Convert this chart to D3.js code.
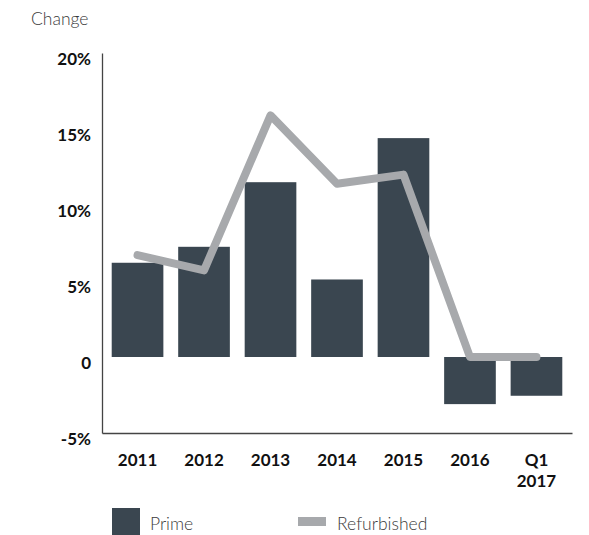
<!DOCTYPE html>
<html>
<head>
<meta charset="utf-8">
<script src="https://cdn.jsdelivr.net/npm/d3@7"></script>
<style>
  html, body { margin: 0; padding: 0; background: #fff; }
  svg { display: block; }
</style>
</head>
<body>
<div id="chart"></div>
<script>
// Annual price change, prime vs refurbished stock
const categories = ["2011", "2012", "2013", "2014", "2015", "2016", "Q1\n2017"];
const primeValues = [6.2, 7.25, 11.5, 5.1, 14.4, -3.1, -2.55];
const refurbishedValues = [6.7, 5.7, 15.9, 11.4, 12.0, 0, 0];
const yTicks = [-5, 0, 5, 10, 15, 20];
const yTickLabels = ["-5%", "0", "5%", "10%", "15%", "20%"];
const seriesNames = ["Prime", "Refurbished"];

const W = 589, H = 535;
const margin = { left: 102, right: 17, top: 53, bottom: 102 };
const font = "Lato, 'Open Sans', sans-serif";
const barColor = "#3a4650";
const lineColor = "#a7a9ac";

const svg = d3.select("#chart").append("svg")
  .attr("width", W).attr("height", H);

const x = d3.scaleBand()
  .domain(categories)
  .range([margin.left, W - margin.right])
  .paddingInner(0.223)
  .paddingOuter(0.146);

const y = d3.scaleLinear()
  .domain([-5, 20])
  .range([H - margin.bottom, margin.top]);

// axis title
svg.append("text")
  .attr("x", 31).attr("y", 25)
  .attr("font-family", font).attr("font-size", 17.5)
  .attr("font-weight", 300).attr("fill", "#3a3a3a")
  .text("Change");

// bars
svg.append("g").selectAll("rect")
  .data(primeValues)
  .join("rect")
  .attr("x", (d, i) => x(categories[i]))
  .attr("width", x.bandwidth())
  .attr("y", d => y(Math.max(0, d)))
  .attr("height", d => Math.abs(y(d) - y(0)))
  .attr("fill", barColor);

// refurbished line
const line = d3.line()
  .x((d, i) => x(categories[i]) + x.bandwidth() / 2)
  .y(d => y(d));

svg.append("path")
  .datum(refurbishedValues)
  .attr("d", line)
  .attr("fill", "none")
  .attr("stroke", lineColor)
  .attr("stroke-width", 8)
  .attr("stroke-linejoin", "round")
  .attr("stroke-linecap", "round");

// y axis
const yAxis = d3.axisLeft(y)
  .tickValues(yTicks)
  .tickSize(0)
  .tickPadding(11)
  .tickFormat((d, i) => yTickLabels[i]);

const gy = svg.append("g")
  .attr("transform", `translate(${margin.left},0)`)
  .call(yAxis);
gy.select(".domain").attr("stroke", "#444").attr("stroke-width", 1.3);
gy.selectAll("text")
  .attr("font-family", font).attr("font-size", 17)
  .attr("font-weight", 700).attr("fill", "#111")
  .attr("dy", "0.36em")
  .attr("y", 5);

// x axis
const xAxis = d3.axisBottom(x).tickSize(0).tickPadding(0).tickFormat("");
const gx = svg.append("g")
  .attr("transform", `translate(0,${y(-5)})`)
  .call(xAxis);
gx.select(".domain").attr("stroke", "#444").attr("stroke-width", 1.3);

gx.selectAll(".tick").each(function(d) {
  const t = d3.select(this).append("text")
    .attr("text-anchor", "middle")
    .attr("font-family", font).attr("font-size", 17)
    .attr("font-weight", 700).attr("fill", "#111");
  d.split("\n").forEach((part, j) => {
    t.append("tspan").attr("x", 0).attr("y", 33 + j * 21).text(part);
  });
});

// legend
const legend = svg.append("g");
legend.append("rect")
  .attr("x", 112).attr("y", 508).attr("width", 28).attr("height", 27)
  .attr("fill", barColor);
legend.append("text")
  .attr("x", 150).attr("y", 530)
  .attr("font-family", font).attr("font-size", 17.5)
  .attr("font-weight", 300).attr("fill", "#3a3a3a")
  .text(seriesNames[0]);
legend.append("rect")
  .attr("x", 298).attr("y", 517).attr("width", 28).attr("height", 9)
  .attr("fill", lineColor);
legend.append("text")
  .attr("x", 337).attr("y", 530)
  .attr("font-family", font).attr("font-size", 17.5)
  .attr("font-weight", 300).attr("fill", "#3a3a3a")
  .text(seriesNames[1]);
</script>
</body>
</html>
